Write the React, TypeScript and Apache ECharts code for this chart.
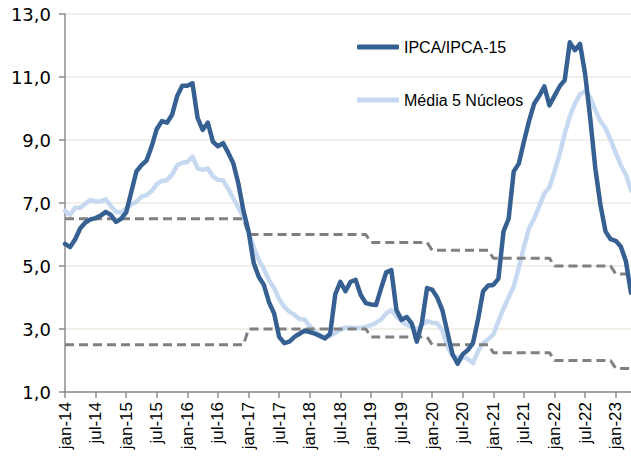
import { useEffect, useRef } from 'react';
import * as echarts from 'echarts';

const monthNames = ['jan', 'fev', 'mar', 'abr', 'mai', 'jun', 'jul', 'ago', 'set', 'out', 'nov', 'dez'];
const yearLabels = ['14', '15', '16', '17', '18', '19', '20', '21', '22', '23'];
const lastYearMonths = 4; // jan-23 .. abr-23

const categories: string[] = [];
yearLabels.forEach((y, yi) => {
  const n = yi === yearLabels.length - 1 ? lastYearMonths : 12;
  for (let m = 0; m < n; m++) categories.push(`${monthNames[m]}-${y}`);
});

// IPCA/IPCA-15, 12-month %
const ipca = [
  5.7, 5.6, 5.85, 6.2, 6.38, 6.48, 6.52, 6.6, 6.72, 6.62, 6.4, 6.5,
  6.7, 7.35, 8.0, 8.2, 8.35, 8.8, 9.35, 9.6, 9.55, 9.8, 10.4, 10.72,
  10.72, 10.8, 9.7, 9.32, 9.55, 8.95, 8.8, 8.9, 8.6, 8.26, 7.62, 6.75,
  6.1, 5.1, 4.66, 4.4, 3.85, 3.5, 2.75, 2.55, 2.6, 2.75, 2.85, 2.95,
  2.9, 2.85, 2.78, 2.7, 2.85, 4.1, 4.5, 4.2, 4.5, 4.56, 4.08, 3.82,
  3.78, 3.76, 4.3, 4.8, 4.87, 3.6, 3.29, 3.38, 3.18, 2.6, 3.2, 4.3,
  4.25, 4.0, 3.6, 2.9, 2.2, 1.9, 2.2, 2.33, 2.55, 3.3, 4.2, 4.38,
  4.4, 4.6, 6.1, 6.5, 8.0, 8.25, 8.95, 9.6, 10.15, 10.4, 10.7, 10.1,
  10.4, 10.7, 10.9, 12.1, 11.85, 12.05, 11.1, 9.7, 8.1, 6.95, 6.1, 5.85,
  5.8, 5.62, 5.15, 4.15,
];

// Média 5 Núcleos, 12-month %
const nucleos = [
  6.75, 6.62, 6.85, 6.85, 6.98, 7.1, 7.05, 7.05, 7.12, 6.9, 6.72, 6.7,
  6.82, 6.95, 7.04, 7.2, 7.25, 7.38, 7.6, 7.7, 7.73, 7.9, 8.2, 8.28,
  8.3, 8.47, 8.1, 8.05, 8.1, 7.85, 7.73, 7.72, 7.45, 7.15, 6.85, 6.55,
  6.1, 5.6, 5.2, 4.9, 4.55, 4.3, 3.95, 3.7, 3.55, 3.45, 3.32, 3.3,
  3.1, 2.95, 2.8, 2.75, 2.78, 2.88, 2.98, 3.05, 3.05, 3.03, 3.03, 3.07,
  3.12, 3.2, 3.3, 3.5, 3.6, 3.4, 3.25, 3.13, 3.08, 2.97, 3.12, 3.25,
  3.2, 3.18, 2.95, 2.45, 2.15, 2.1, 2.1, 2.05, 1.92, 2.3, 2.55, 2.68,
  2.82, 3.25, 3.65, 4.0, 4.35, 4.95, 5.6, 6.2, 6.5, 6.9, 7.3, 7.5,
  8.0, 8.55, 9.2, 9.75, 10.15, 10.45, 10.55, 10.35, 9.95, 9.6, 9.38, 9.0,
  8.6, 8.2, 7.9, 7.4,
];

// Inflation target band limits, one value per calendar year (2014..2023)
const targetUpperByYear = [6.5, 6.5, 6.5, 6.0, 6.0, 5.75, 5.5, 5.25, 5.0, 4.75];
const targetLowerByYear = [2.5, 2.5, 2.5, 3.0, 3.0, 2.75, 2.5, 2.25, 2.0, 1.75];

const yearIndexOf = (cat: string) => yearLabels.indexOf(cat.split('-')[1]);
const targetUpper = categories.map((c) => targetUpperByYear[yearIndexOf(c)]);
const targetLower = categories.map((c) => targetLowerByYear[yearIndexOf(c)]);

const DARK = '#376092';
const LIGHT = '#C6D9F1';
const DASH = '#808080';

export default function App() {
  const ref = useRef<HTMLDivElement>(null);
  useEffect(() => {
    if (!ref.current) return;
    const chart = echarts.init(ref.current, undefined, { renderer: 'svg' });
    chart.setOption({
      animation: false,
      backgroundColor: '#ffffff',
      grid: { left: 65, right: 0, top: 14, bottom: 64, containLabel: false },
      legend: {
        orient: 'vertical',
        left: 357,
        top: 39,
        padding: 0,
        itemWidth: 42,
        itemHeight: 5,
        itemGap: 37,
        data: [
          { name: 'IPCA/IPCA-15', icon: 'roundRect' },
          { name: 'Média 5 Núcleos', icon: 'roundRect' },
        ],
        textStyle: { fontFamily: 'Liberation Sans', fontSize: 16, color: '#000' },
      },
      xAxis: {
        type: 'category',
        data: categories,
        boundaryGap: false,
        axisLine: { show: true, lineStyle: { color: '#8c8c8c', width: 1.5 } },
        axisTick: { show: true, interval: 5, length: 6, lineStyle: { color: '#8c8c8c', width: 1.5 } },
        axisLabel: {
          interval: 5,
          rotate: 90,
          margin: 10,
          fontFamily: 'Liberation Sans',
          fontSize: 17,
          color: '#000',
        },
        splitLine: { show: false },
      },
      yAxis: {
        type: 'value',
        min: 1,
        max: 13,
        interval: 2,
        axisLine: { show: true, lineStyle: { color: '#8c8c8c', width: 1.5 } },
        axisTick: { show: true, length: 6, lineStyle: { color: '#8c8c8c', width: 1.5 } },
        axisLabel: {
          margin: 14,
          fontFamily: 'DejaVu Sans',
          fontSize: 18,
          color: '#000',
          formatter: (v: number) => v.toFixed(1).replace('.', ','),
        },
        splitLine: { show: true, lineStyle: { color: '#EEEAE0', width: 1.5 } },
      },
      series: [
        {
          name: 'Média 5 Núcleos',
          type: 'line',
          data: nucleos,
          symbol: 'none',
          showSymbol: false,
          z: 2,
          itemStyle: { color: LIGHT },
          lineStyle: { color: LIGHT, width: 4.5, cap: 'round', join: 'round' },
        },
        {
          name: 'Meta superior',
          type: 'line',
          data: targetUpper,
          symbol: 'none',
          showSymbol: false,
          z: 3,
          itemStyle: { color: DASH },
          lineStyle: { color: DASH, width: 3, type: [9, 5] },
        },
        {
          name: 'Meta inferior',
          type: 'line',
          data: targetLower,
          symbol: 'none',
          showSymbol: false,
          z: 3,
          itemStyle: { color: DASH },
          lineStyle: { color: DASH, width: 3, type: [9, 5] },
        },
        {
          name: 'IPCA/IPCA-15',
          type: 'line',
          data: ipca,
          symbol: 'none',
          showSymbol: false,
          z: 4,
          itemStyle: { color: DARK },
          lineStyle: { color: DARK, width: 4.5, cap: 'round', join: 'round' },
        },
      ],
    });
    return () => chart.dispose();
  }, []);
  return (
    <div
      ref={ref}
      style={{ position: 'fixed', left: 0, top: 0, width: 631, height: 456, background: '#fff' }}
    />
  );
}
